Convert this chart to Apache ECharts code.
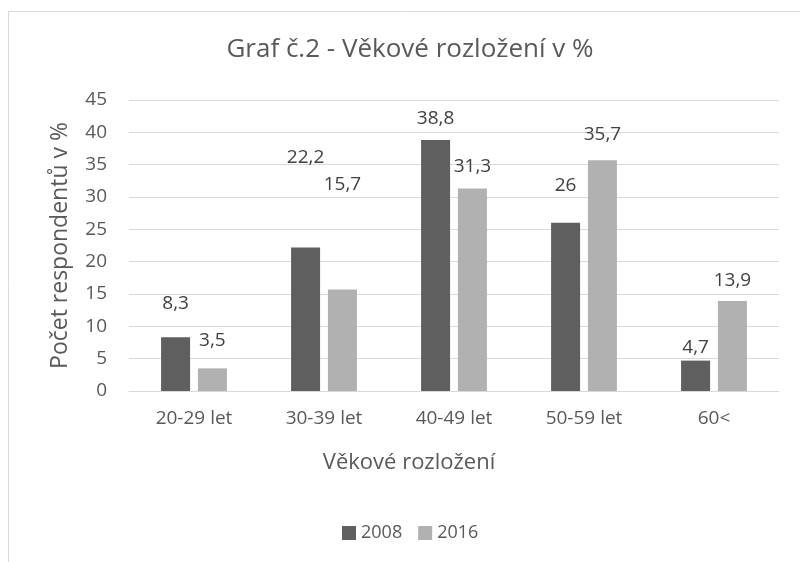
<!DOCTYPE html>
<html>
<head>
<meta charset="utf-8">
<script src="https://cdn.jsdelivr.net/npm/echarts@6/dist/echarts.min.js"></script>
<style>
  html, body { margin: 0; padding: 0; background: #fff; }
  #chart { width: 800px; height: 562px; }
</style>
</head>
<body>
<div id="chart"></div>
<script>
// data
var categories = ["20-29 let", "30-39 let", "40-49 let", "50-59 let", "60<"];
var values2008 = [8.3, 22.2, 38.8, 26, 4.7];
var values2016 = [3.5, 15.7, 31.3, 35.7, 13.9];
var seriesNames = ["2008", "2016"];

// labels were nudged by hand in the original, keep that look
var lift2008 = [24, 80, 12, 28, 4];
var lift2016 = [18, 95, 12, 16, 11];

var textColor = "#595959";
var font = "'Open Sans', 'Noto Sans', sans-serif";

function withLabels(vals, lifts) {
    return vals.map(function (v, i) {
        return { value: v, label: { distance: lifts[i] } };
    });
}

function barSeries(name, vals, lifts, color) {
    return {
        name: name,
        type: "bar",
        barWidth: 29,
        barGap: "27%",
        itemStyle: { color: color },
        label: {
            show: true,
            position: "top",
            color: "#404040",
            fontSize: 19,
            fontFamily: font,
            formatter: function (p) {
                return String(p.value).replace(".", ",");
            }
        },
        data: withLabels(vals, lifts)
    };
}

var myChart = echarts.init(document.getElementById("chart"));
var option = {
    animation: false,
    textStyle: { fontFamily: font },
    graphic: [{
        // chart area border (only top/left fall inside the picture)
        type: "rect",
        shape: { x: 8.5, y: 11.5, width: 900, height: 700 },
        style: { fill: "none", stroke: "#d9d9d9", lineWidth: 1 },
        silent: true
    }],
    title: {
        text: "Graf č.2 - Věkové rozložení v %",
        left: 405,
        textAlign: "center",
        top: 32,
        textStyle: {
            color: textColor,
            fontSize: 26,
            fontWeight: "normal",
            fontFamily: font
        }
    },
    legend: {
        data: seriesNames,
        bottom: 15,
        left: 337,
        itemWidth: 14,
        itemHeight: 14,
        itemGap: 16,
        icon: "rect",
        textStyle: { color: textColor, fontSize: 18, fontFamily: font }
    },
    grid: {
        left: 129,
        right: 21,
        top: 100,
        bottom: 171,
        containLabel: false
    },
    xAxis: {
        type: "category",
        data: categories,
        name: "Věkové rozložení",
        nameLocation: "middle",
        nameGap: 61,
        nameTextStyle: {
            color: textColor,
            fontSize: 22,
            fontFamily: font,
            padding: [0, 90, 0, 0]
        },
        axisTick: { show: false },
        axisLine: { lineStyle: { color: "#d9d9d9", width: 1 } },
        axisLabel: { color: textColor, fontSize: 19, margin: 18, fontFamily: font }
    },
    yAxis: {
        type: "value",
        min: 0,
        max: 45,
        interval: 5,
        name: "Počet respondentů v %",
        nameLocation: "middle",
        nameRotate: 90,
        nameGap: 57,
        nameTextStyle: { color: textColor, fontSize: 23, fontFamily: font },
        axisLine: { show: false },
        axisTick: { show: false },
        axisLabel: { color: textColor, fontSize: 19, margin: 22, fontFamily: font },
        splitLine: { lineStyle: { color: "#d9d9d9", width: 1 } }
    },
    series: [
        barSeries(seriesNames[0], values2008, lift2008, "#5f5f5f"),
        barSeries(seriesNames[1], values2016, lift2016, "#b1b1b1")
    ]
};
myChart.setOption(option);
window.addEventListener("resize", function () {
    myChart.resize();
});
</script>
</body>
</html>
